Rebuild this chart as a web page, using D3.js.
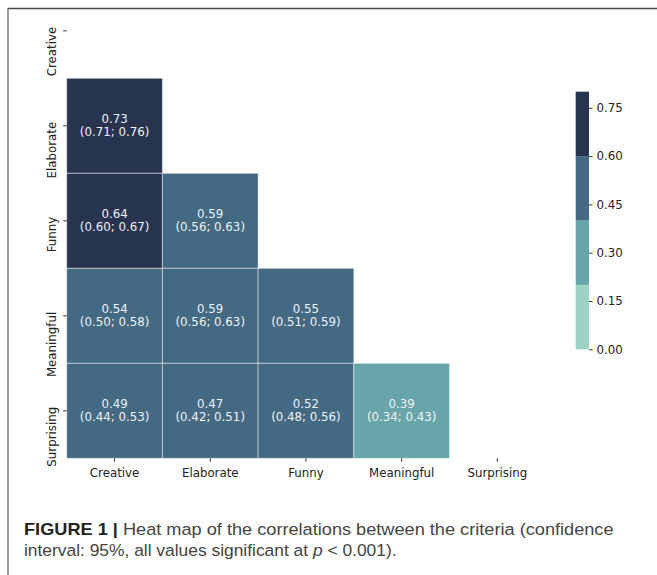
<!DOCTYPE html>
<html>
<head>
<meta charset="utf-8">
<script src="https://cdn.jsdelivr.net/npm/d3@7"></script>
<style>
  html, body { margin: 0; padding: 0; background: #fff; }
  svg { display: block; }
</style>
</head>
<body>
<svg id="chart" width="657" height="575"></svg>
<script>
// Criteria rated in the study (rows and columns of the correlation matrix)
const criteria = ["Creative", "Elaborate", "Funny", "Meaningful", "Surprising"];

// Lower-triangle cells: row criterion, column criterion, r and its 95% CI
const cellRows = ["Elaborate", "Funny", "Funny", "Meaningful", "Meaningful", "Meaningful",
                  "Surprising", "Surprising", "Surprising", "Surprising"];
const cellCols = ["Creative", "Creative", "Elaborate", "Creative", "Elaborate", "Funny",
                  "Creative", "Elaborate", "Funny", "Meaningful"];
const rValues  = [0.73, 0.64, 0.59, 0.54, 0.59, 0.55, 0.49, 0.47, 0.52, 0.39];
const ciLower  = [0.71, 0.60, 0.56, 0.50, 0.56, 0.51, 0.44, 0.42, 0.48, 0.34];
const ciUpper  = [0.76, 0.67, 0.63, 0.58, 0.63, 0.59, 0.53, 0.51, 0.56, 0.43];

// Discrete colour bins and colour-bar ticks
const binEdges   = [0.2, 0.4, 0.6];
const binColours = ["#9dd2c5", "#67a5a9", "#446983", "#27344f"];
const colourbarMax = 0.8;
const colourbarTicks = [0.00, 0.15, 0.30, 0.45, 0.60, 0.75];

const caption1Bold = "FIGURE 1 |";
const caption1Rest = " Heat map of the correlations between the criteria (confidence";
const caption2a = "interval: 95%, all values significant at ";
const caption2p = "p";
const caption2b = " < 0.001).";

const svg = d3.select("#chart");
const font = "'DejaVu Sans', sans-serif";
const fs = 11.8;

const cells = cellRows.map((r, i) => ({
  row: r, col: cellCols[i], r: rValues[i], lo: ciLower[i], hi: ciUpper[i]
}));

// Frame lines
svg.append("line").attr("x1", 8).attr("x2", 657).attr("y1", 8.5).attr("y2", 8.5)
  .attr("stroke", "#4a4a4a").attr("stroke-width", 1.6);
svg.append("line").attr("x1", 8).attr("x2", 8).attr("y1", 8).attr("y2", 575)
  .attr("stroke", "#5a5a5a").attr("stroke-width", 1.2);

// Heat map scales
const x = d3.scaleBand().domain(criteria).range([66.7, 545.2]);
const y = d3.scaleBand().domain(criteria).range([-16.7, 458.3]);
const colour = d3.scaleThreshold().domain(binEdges).range(binColours);

const g = svg.append("g");

g.selectAll("rect.cell").data(cells).enter().append("rect")
  .attr("class", "cell")
  .attr("x", d => x(d.col))
  .attr("y", d => y(d.row))
  .attr("width", x.bandwidth())
  .attr("height", y.bandwidth())
  .attr("fill", d => colour(d.r))
  .attr("stroke", "rgba(255,255,255,0.45)")
  .attr("stroke-width", 1);

const labels = g.selectAll("text.val").data(cells).enter().append("text")
  .attr("class", "val")
  .attr("text-anchor", "middle")
  .attr("font-family", font)
  .attr("font-size", fs)
  .attr("fill", "#f2f2f2");
labels.append("tspan")
  .attr("x", d => x(d.col) + x.bandwidth() / 2)
  .attr("y", d => y(d.row) + y.bandwidth() / 2 - 2.8)
  .text(d => d.r.toFixed(2));
labels.append("tspan")
  .attr("x", d => x(d.col) + x.bandwidth() / 2)
  .attr("y", d => y(d.row) + y.bandwidth() / 2 + 10)
  .text(d => `(${d.lo.toFixed(2)}; ${d.hi.toFixed(2)})`);

// Axes
const xAxis = svg.append("g")
  .attr("transform", `translate(0,${y.range()[1]})`)
  .call(d3.axisBottom(x).tickSize(3.5).tickSizeOuter(0));
xAxis.select(".domain").remove();
xAxis.selectAll("line").attr("stroke", "#333");
xAxis.selectAll("text")
  .attr("font-family", font).attr("font-size", fs).attr("fill", "#222")
  .attr("y", 18.7).attr("dy", 0);

const yAxis = svg.append("g")
  .attr("transform", `translate(${x.range()[0]},0)`)
  .call(d3.axisLeft(y).tickSize(3.5).tickSizeOuter(0));
yAxis.select(".domain").remove();
yAxis.selectAll("line").attr("stroke", "#333");
yAxis.selectAll("text")
  .attr("font-family", font).attr("font-size", fs).attr("fill", "#222")
  .attr("x", 0).attr("dy", 0)
  .attr("text-anchor", "end")
  .attr("transform", "translate(-10.8,-4) rotate(-90)");

// Colour bar
const cbX = 575.7, cbW = 13.3;
const cb = d3.scaleLinear().domain([0, colourbarMax]).range([349.3, 91.7]);
const binStarts = [0, ...binEdges];
const binEnds = [...binEdges, colourbarMax];
svg.append("g").selectAll("rect").data(binStarts).enter().append("rect")
  .attr("x", cbX)
  .attr("y", (d, i) => cb(binEnds[i]))
  .attr("width", cbW)
  .attr("height", (d, i) => cb(d) - cb(binEnds[i]))
  .attr("fill", (d, i) => binColours[i]);

const cbAxis = svg.append("g")
  .attr("transform", `translate(${cbX + cbW},0)`)
  .call(d3.axisRight(cb).tickValues(colourbarTicks).tickFormat(d3.format(".2f"))
        .tickSize(3.5).tickPadding(4));
cbAxis.select(".domain").remove();
cbAxis.selectAll("line").attr("stroke", "#333");
cbAxis.selectAll("text").attr("font-family", font).attr("font-size", fs).attr("fill", "#222");

// Caption, each line fitted to its printed width
const capFont = "'Liberation Sans', Arial, sans-serif";
const capSize = 16.5;
const cap1 = svg.append("text")
  .attr("font-family", capFont).attr("font-size", capSize).attr("fill", "#444");
cap1.append("tspan").attr("font-weight", "bold").attr("fill", "#222").text(caption1Bold);
cap1.append("tspan").text(caption1Rest);
const cap2 = svg.append("text")
  .attr("font-family", capFont).attr("font-size", capSize).attr("fill", "#444");
cap2.append("tspan").text(caption2a);
cap2.append("tspan").attr("font-style", "italic").text(caption2p);
cap2.append("tspan").text(caption2b);

const sx1 = 590 / cap1.node().getComputedTextLength();
const sx2 = 373 / cap2.node().getComputedTextLength();
cap1.attr("transform", `translate(24,535) scale(${sx1},1)`);
cap2.attr("transform", `translate(24,556) scale(${sx2},1)`);
</script>
</body>
</html>
